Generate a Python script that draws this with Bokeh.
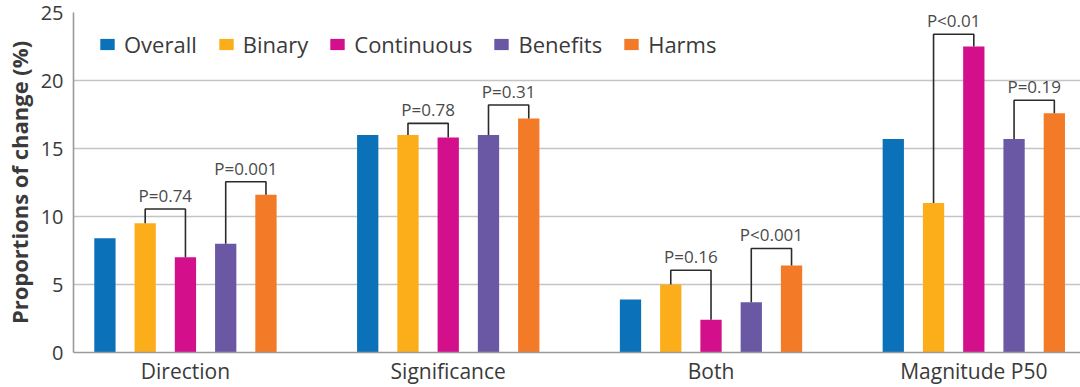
from bokeh.plotting import figure
from bokeh.models import FixedTicker, Legend, LegendItem, Range1d, LabelSet, ColumnDataSource
from bokeh.core.properties import value
from bokeh.embed import file_html
from bokeh.resources import INLINE

categories = ["Direction", "Significance", "Both", "Magnitude P50"]
series = ["Overall", "Binary", "Continuous", "Benefits", "Harms"]
overall = [8.4, 16.0, 3.9, 15.7]
binary = [9.5, 16.0, 5.0, 11.0]
continuous = [7.0, 15.8, 2.4, 22.5]
benefits = [8.0, 16.0, 3.7, 15.7]
harms = [11.6, 17.2, 6.4, 17.6]
colors = ["#0b71b9", "#fcae1a", "#d40f8c", "#6b58a5", "#f37a27"]

# comparison brackets
cmp_group = [0, 0, 1, 1, 2, 2, 3, 3]
cmp_left = [1, 3, 1, 3, 1, 3, 1, 3]
cmp_right = [2, 4, 2, 4, 2, 4, 2, 4]
cmp_top = [10.55, 12.55, 16.85, 18.2, 6.05, 7.65, 23.4, 18.55]
cmp_label = ["P=0.74", "P=0.001", "P=0.78", "P=0.31", "P=0.16", "P<0.001", "P<0.01", "P=0.19"]

FONT = "Open Sans"
TXT = "#3a3a3a"
step = 0.1532
bw = 0.081
all_vals = [overall, binary, continuous, benefits, harms]

p = figure(width=1080, height=387, output_backend="svg", toolbar_location=None,
           x_range=Range1d(-0.426, 3.406), y_range=Range1d(0, 25),
           min_border_left=73, min_border_right=0, min_border_top=12, min_border_bottom=32)
p.outline_line_color = None
p.xgrid.grid_line_color = None
p.ygrid.grid_line_color = "#c4c4c4"
p.ygrid.grid_line_width = 1.6

items = []
for k, (name, vals, c) in enumerate(zip(series, all_vals, colors)):
    xs = [g + (k - 2) * step for g in range(len(categories))]
    src = ColumnDataSource(dict(x=xs, top=vals))
    r = p.vbar(x="x", top="top", width=bw, bottom=0, source=src,
               fill_color=c, line_color=None)
    items.append(LegendItem(label=name, renderers=[r]))

bx, by, lx, ly, lt = [], [], [], [], []
for g, l, r_, t, lab in zip(cmp_group, cmp_left, cmp_right, cmp_top, cmp_label):
    xl = g + (l - 2) * step
    xr = g + (r_ - 2) * step
    bx.append([xl, xl, xr, xr])
    by.append([all_vals[l][g], t, t, all_vals[r_][g]])
    lx.append((xl + xr) / 2)
    ly.append(t)
    lt.append(lab)
p.multi_line(xs=bx, ys=by, line_color="#2b2b2b", line_width=1.6)
lsrc = ColumnDataSource(dict(x=lx, y=ly, text=lt))
p.add_layout(LabelSet(x="x", y="y", text="text", source=lsrc, y_offset=7,
                      text_align="center", text_baseline="alphabetic",
                      text_font=value(FONT), text_font_size="17px", text_color="#4a4a4a"))

legend = Legend(items=items, orientation="horizontal", location=(25, 293),
                glyph_width=18, glyph_height=14, label_standoff=8, spacing=20,
                padding=0, margin=0, border_line_alpha=0, background_fill_alpha=0,
                label_text_font=FONT, label_text_font_size="22px", label_text_color=TXT)
p.add_layout(legend)

p.xaxis.ticker = FixedTicker(ticks=list(range(len(categories))))
p.xaxis.major_label_overrides = {i: c for i, c in enumerate(categories)}
p.yaxis.ticker = FixedTicker(ticks=[0, 5, 10, 15, 20, 25])
for ax in (p.xaxis, p.yaxis):
    ax.axis_line_color = "#9a9a9a"
    ax.axis_line_width = 1.6
    ax.major_tick_line_color = None
    ax.minor_tick_line_color = None
    ax.major_tick_out = 0
    ax.major_tick_in = 0
    ax.major_label_text_font = FONT
    ax.major_label_text_color = TXT
p.xaxis.major_label_text_font_size = "21px"
p.yaxis.major_label_text_font_size = "20px"
p.xaxis.major_label_standoff = 4
p.yaxis.major_label_standoff = 10
p.yaxis.axis_label = "Proportions of change (%)"
p.yaxis.axis_label_text_font = FONT
p.yaxis.axis_label_text_font_size = "22px"
p.yaxis.axis_label_text_font_style = "bold"
p.yaxis.axis_label_text_color = TXT
p.yaxis.axis_label_standoff = 4

open("out.html", "w").write(file_html(p, INLINE))
